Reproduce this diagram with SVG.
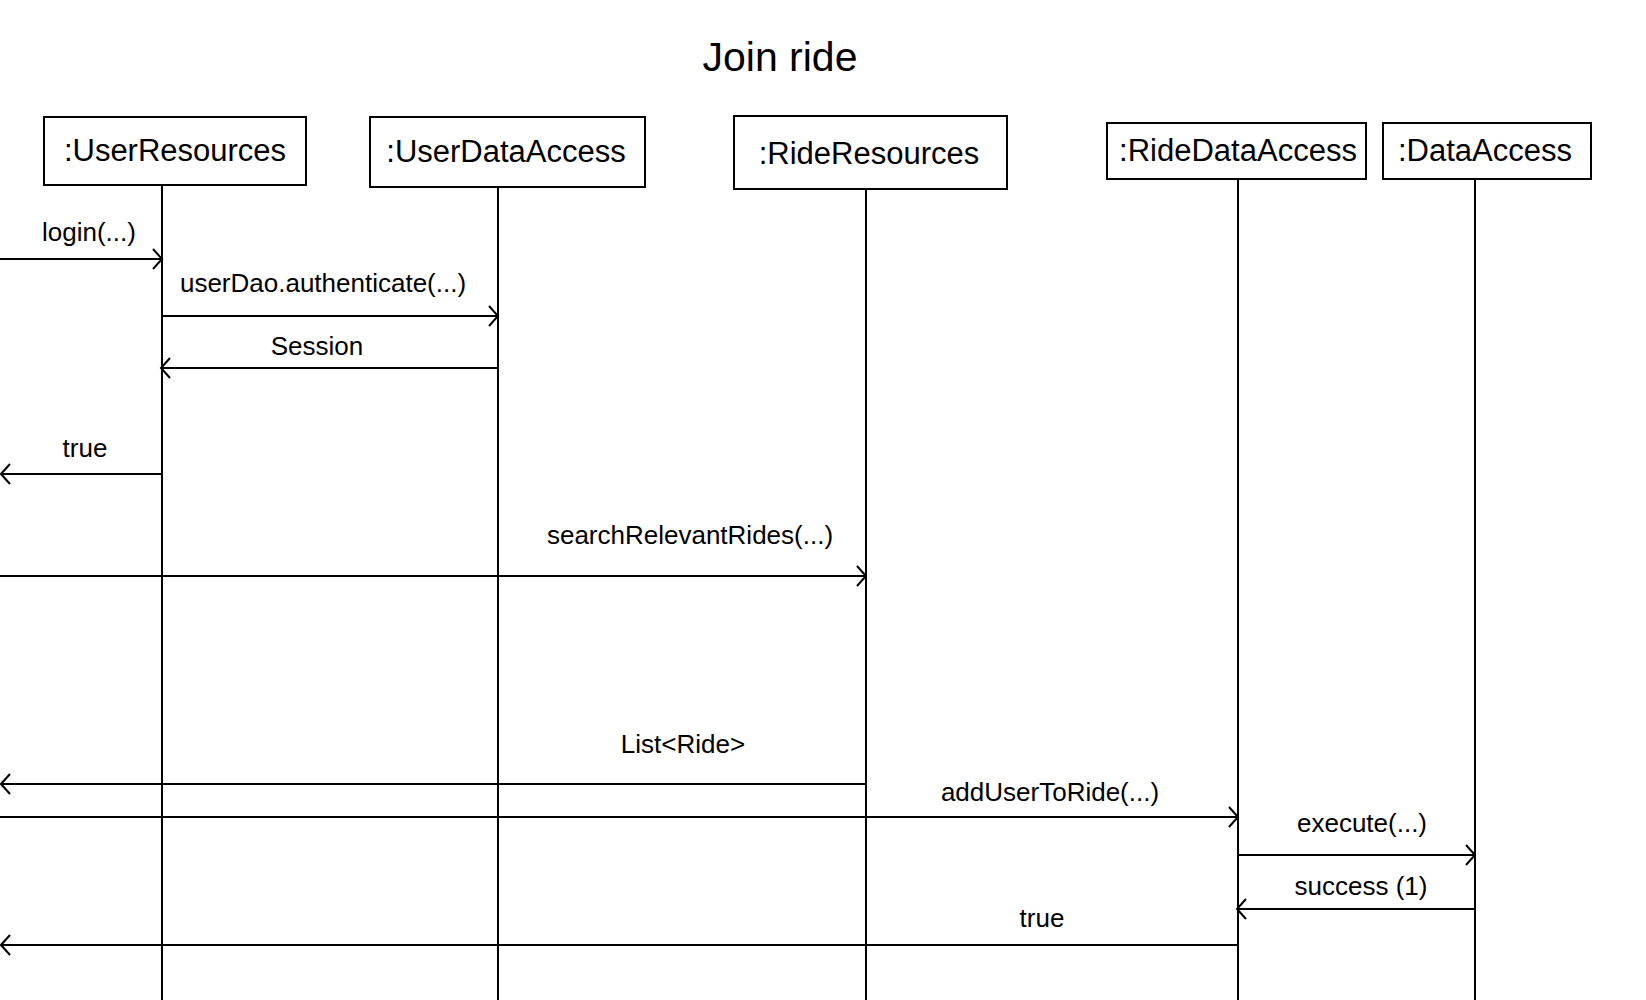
<svg xmlns="http://www.w3.org/2000/svg" width="1646" height="1000" viewBox="0 0 1646 1000">
<style>
  .box{fill:#fff;stroke:#000;stroke-width:2}
  .life{stroke:#000;stroke-width:2}
  .msg{stroke:#000;stroke-width:2;fill:none;marker-end:url(#open)}
  .lbl{font-family:"Liberation Sans",Arial,sans-serif;font-size:31px;fill:#000;text-anchor:middle}
  .mt{font-family:"Liberation Sans",Arial,sans-serif;font-size:26px;fill:#000;text-anchor:middle}
  .title{font-family:"Liberation Sans",Arial,sans-serif;font-size:41px;fill:#000;text-anchor:middle}
</style>
<defs>
  <marker id="open" markerUnits="userSpaceOnUse" markerWidth="14" markerHeight="24" viewBox="-12 -12 14 24" refX="0" refY="0" orient="auto">
    <path d="M-9,-10 L0,0 L-9,10" fill="none" stroke="#000" stroke-width="2"/>
  </marker>
</defs>
<rect width="1646" height="1000" fill="#fff"/>
<text class="title" x="780" y="71">Join ride</text>
<g id="lifelines">
  <line class="life" x1="162" y1="185" x2="162" y2="1000"/>
  <line class="life" x1="498" y1="187" x2="498" y2="1000"/>
  <line class="life" x1="866" y1="189" x2="866" y2="1000"/>
  <line class="life" x1="1238" y1="179" x2="1238" y2="1000"/>
  <line class="life" x1="1475" y1="179" x2="1475" y2="1000"/>
</g>
<g id="node-userresources">
  <rect class="box" x="44" y="117" width="262" height="68"/>
  <text class="lbl" x="175" y="161">:UserResources</text>
</g>
<g id="node-userdataaccess">
  <rect class="box" x="370" y="117" width="275" height="70"/>
  <text class="lbl" x="506" y="162">:UserDataAccess</text>
</g>
<g id="node-rideresources">
  <rect class="box" x="734" y="116" width="273" height="73"/>
  <text class="lbl" x="869" y="164">:RideResources</text>
</g>
<g id="node-ridedataaccess">
  <rect class="box" x="1107" y="123" width="259" height="56"/>
  <text class="lbl" x="1238" y="161">:RideDataAccess</text>
</g>
<g id="node-dataaccess">
  <rect class="box" x="1383" y="123" width="208" height="56"/>
  <text class="lbl" x="1485" y="161">:DataAccess</text>
</g>
<g id="connectors">
  <line class="msg" x1="0" y1="259" x2="162" y2="259"/>
  <line class="msg" x1="162" y1="316" x2="498" y2="316"/>
  <line class="msg" x1="498" y1="368" x2="161" y2="368"/>
  <line class="msg" x1="162" y1="474" x2="1" y2="474"/>
  <line class="msg" x1="0" y1="576" x2="866" y2="576"/>
  <line class="msg" x1="866" y1="784" x2="1" y2="784"/>
  <line class="msg" x1="0" y1="817" x2="1238" y2="817"/>
  <line class="msg" x1="1238" y1="855" x2="1475" y2="855"/>
  <line class="msg" x1="1475" y1="909" x2="1237" y2="909"/>
  <line class="msg" x1="1238" y1="945" x2="1" y2="945"/>
</g>
<g id="labels">
  <text class="mt" x="89" y="241">login(...)</text>
  <text class="mt" x="323" y="292">userDao.authenticate(...)</text>
  <text class="mt" x="317" y="355">Session</text>
  <text class="mt" x="85" y="457">true</text>
  <text class="mt" x="690" y="544">searchRelevantRides(...)</text>
  <text class="mt" x="683" y="753">List&lt;Ride&gt;</text>
  <text class="mt" x="1050" y="801">addUserToRide(...)</text>
  <text class="mt" x="1362" y="832">execute(...)</text>
  <text class="mt" x="1361" y="895">success (1)</text>
  <text class="mt" x="1042" y="927">true</text>
</g>
</svg>
